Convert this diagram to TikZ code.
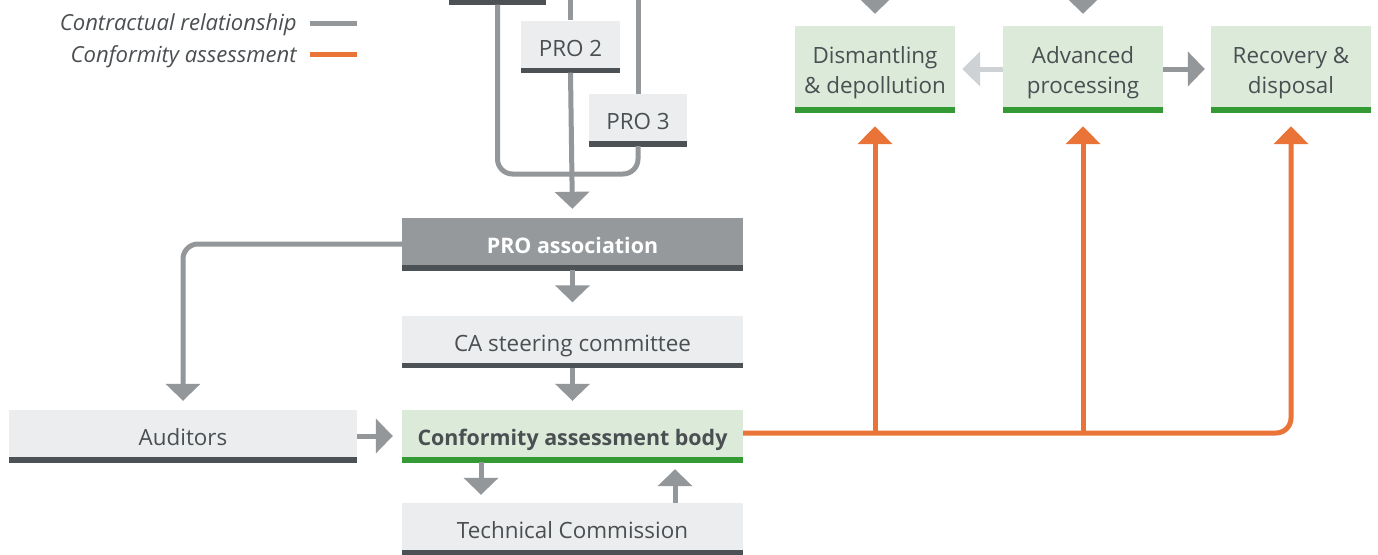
\documentclass[tikz,border=0pt]{standalone}
\usepackage{fontspec}
\setmainfont{Open Sans}
\usetikzlibrary{arrows.meta}
\definecolor{lgray}{HTML}{ECEDEF}
\definecolor{dbar}{HTML}{4B5154}
\definecolor{mgray}{HTML}{939799}
\definecolor{boxgray}{HTML}{95999C}
\definecolor{vlgray}{HTML}{CFD2D5}
\definecolor{lgreen}{HTML}{DBEAD9}
\definecolor{gbar}{HTML}{349A34}
\definecolor{txt}{HTML}{4A4F52}
\definecolor{orng}{HTML}{EA7438}
\begin{document}
\begin{tikzpicture}[x=1pt,y=-1pt,
  box/.style={rectangle, inner sep=0pt, minimum height=52pt, text=txt,
    text height=19pt, text depth=0pt,
    font=\fontsize{22.4}{30}\selectfont, fill=lgray,
    path picture={\fill[dbar] ([yshift=-0.5pt]path picture bounding box.south west) rectangle ([yshift=5pt]path picture bounding box.south east);}},
  boldfont/.style={font=\fontsize{21.4}{30}\selectfont\bfseries},
  darkbox/.style={box, fill=boxgray, text=white, boldfont},
  greenbar/.style={path picture={\fill[gbar] ([yshift=-0.5pt]path picture bounding box.south west) rectangle ([yshift=5pt]path picture bounding box.south east);}},
  greenbox/.style={box, fill=lgreen, align=center, greenbar, text height=48pt, text depth=0pt},
  gline/.style={draw=mgray, line width=5pt},
  garrow/.style={gline, -{Triangle[length=17pt,width=34pt]}},
  larrow/.style={draw=vlgray, line width=5pt, -{Triangle[length=18pt,width=34pt]}},
  oarrow/.style={draw=orng, line width=5pt, -{Triangle[length=18pt,width=34pt]}},
  legend/.style={anchor=east, inner sep=0pt, text=txt, font=\fontsize{22.1}{25}\selectfont\itshape}
]
\useasboundingbox (0,0) rectangle (1378,554);
\fill[white] (0,0) rectangle (1378,554);
\clip (0,0) rectangle (1378,554);

% legend
\node[legend] (lg1) at (297,24.5) {Contractual relationship};
\node[legend] (lg2) at (297,56.5) {Conformity assessment};
\coordinate (lg1a) at (310,23); \coordinate (lg1b) at (357,23);
\coordinate (lg2a) at (310,54); \coordinate (lg2b) at (357,54);
\draw[gline] (lg1a) -- (lg1b);
\draw[draw=orng, line width=5pt] (lg2a) -- (lg2b);

% PRO boxes (first one is cut off at the top edge)
\node[box, minimum width=97pt] (pro1) at (497.5,-21.5) {};
\node[box, minimum width=99pt] (pro2) at (570.5,46.5) {PRO 2};
\node[box, minimum width=98pt] (pro3) at (638,120) {PRO 3};

\node[darkbox, minimum width=341pt] (proa) at (572.5,244) {PRO association};
\node[box, minimum width=341pt] (ca) at (572.5,341.5) {CA steering committee};
\node[box, fill=lgreen, greenbar, boldfont, minimum width=341pt] (cab) at (572.5,436) {Conformity assessment body};
\node[box, minimum width=341pt] (tc) at (572.5,529) {Technical Commission};
\node[box, minimum width=348pt] (aud) at (183,436) {Auditors};

\node[greenbox, minimum width=160pt, minimum height=86pt] (dis) at (875,69) {Dismantling\\\& depollution};
\node[greenbox, minimum width=160pt, minimum height=86pt] (adv) at (1083,69) {Advanced\\processing};
\node[greenbox, minimum width=160pt, minimum height=86pt] (rec) at (1291,69) {Recovery \&\\disposal};

% PRO connectors
\coordinate (merge) at (570.5,174);
\coordinate (up2) at (570.5,-20);
\coordinate (up3) at (638,-20);
\draw[gline] (pro2.north) -- (up2);
\draw[gline] (pro3.north) -- (up3);
\draw[gline, rounded corners=15pt] (pro1.south) |- (merge);
\draw[gline, rounded corners=15pt] (pro3.south) |- (merge);
\draw[garrow, shorten >=9pt] (pro2.south) -- (proa.north);

% main chain
\draw[garrow, shorten >=13pt] (proa.south) -- (ca.north);
\draw[garrow, shorten >=9pt] (ca.south) -- (cab.north);
\draw[garrow, shorten >=8pt] ([xshift=-91.5pt]cab.south) -- ([xshift=-91.5pt]tc.north);
\draw[garrow, shorten >=7pt] ([xshift=102.5pt]tc.north) -- ([xshift=102.5pt]cab.south);
\draw[garrow, rounded corners=15pt, shorten >=9pt] (proa.west) -| (aud.north);
\draw[garrow, shorten >=9pt] (aud.east) -- (cab.west);

% top incoming arrows (cut off)
\coordinate (topd) at (875,-40);
\coordinate (topa) at (1083,-40);
\draw[garrow, shorten >=12pt] (topd) -- (dis.north);
\draw[garrow, shorten >=12pt] (topa) -- (adv.north);

% horizontal arrows among treatment boxes
\draw[larrow, shorten >=7pt] (adv.west) -- (dis.east);
\draw[garrow, shorten >=6pt] (adv.east) -- (rec.west);

% conformity assessment (orange)
\coordinate (oy) at ([yshift=3pt]cab.east);
\draw[oarrow, rounded corners=15pt, shorten >=14pt] (oy) -| (rec.south);
\draw[oarrow, shorten >=14pt] (dis.south |- oy) -- (dis.south);
\draw[oarrow, shorten >=14pt] (adv.south |- oy) -- (adv.south);
\end{tikzpicture}
\end{document}
